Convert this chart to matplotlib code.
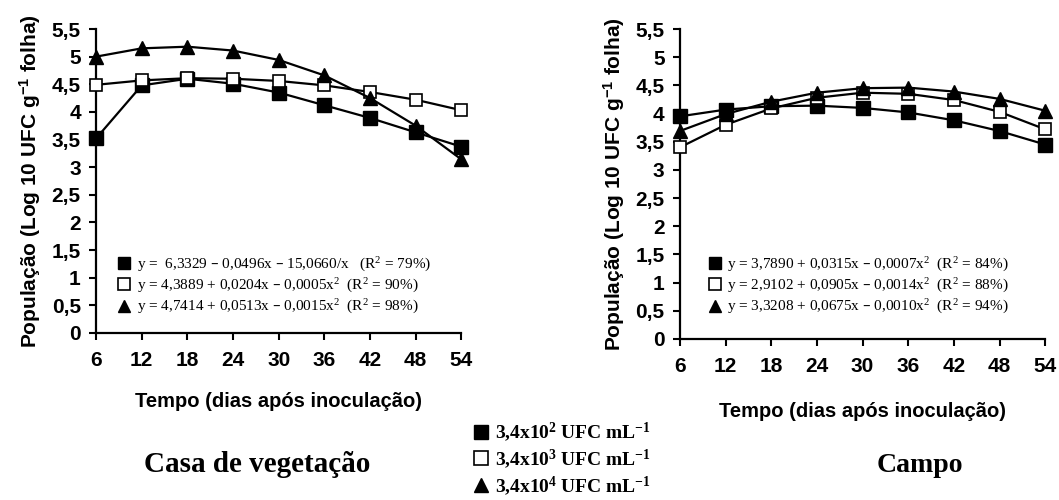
import numpy as np
import matplotlib
matplotlib.use("Agg")
import matplotlib.pyplot as plt
from matplotlib.lines import Line2D

plt.rcParams['mathtext.default'] = 'regular'

# data
dias = [6, 12, 18, 24, 30, 36, 42, 48, 54]

# Casa de vegetacao
casa_1e2 = [3.52, 4.48, 4.60, 4.51, 4.35, 4.12, 3.89, 3.63, 3.37]
casa_1e3 = [4.49, 4.57, 4.61, 4.60, 4.56, 4.48, 4.36, 4.22, 4.03]
casa_1e4 = [5.00, 5.15, 5.18, 5.11, 4.94, 4.66, 4.25, 3.75, 3.14]

# Campo
campo_1e2 = [3.95, 4.07, 4.13, 4.14, 4.10, 4.02, 3.88, 3.69, 3.45]
campo_1e3 = [3.40, 3.80, 4.09, 4.28, 4.37, 4.35, 4.24, 4.03, 3.72]
campo_1e4 = [3.69, 3.99, 4.21, 4.37, 4.45, 4.46, 4.39, 4.26, 4.05]

eq_casa = ["y =  6,3329 \u2013 0,0496x \u2013 15,0660/x   (R$^2$ = 79%)",
           "y = 4,3889 + 0,0204x \u2013 0,0005x$^2$  (R$^2$ = 90%)",
           "y = 4,7414 + 0,0513x \u2013 0,0015x$^2$  (R$^2$ = 98%)"]
eq_campo = ["y = 3,7890 + 0,0315x \u2013 0,0007x$^2$  (R$^2$ = 84%)",
            "y = 2,9102 + 0,0905x \u2013 0,0014x$^2$  (R$^2$ = 88%)",
            "y = 3,3208 + 0,0675x \u2013 0,0010x$^2$  (R$^2$ = 94%)"]
doses = ["3,4x10$^2$ UFC mL$^{-1}$", "3,4x10$^3$ UFC mL$^{-1}$", "3,4x10$^4$ UFC mL$^{-1}$"]

yticks = np.arange(0, 5.51, 0.5)
ytick_labels = [("%g" % v).replace(".", ",") for v in yticks]

SANS = "Liberation Sans"
SERIF = "Liberation Serif"

styles = [dict(marker="s", ms=9.5, mfc="black", mec="black"),
          dict(marker="s", ms=9, mfc="white", mec="black", mew=1.2),
          dict(marker="^", ms=10, mfc="black", mec="black")]


def draw_panel(ax, series, equations, leg_anchor, xlabelpad):
    for vals, st in zip(series, styles):
        ax.plot(dias, vals, color="black", lw=1.6, clip_on=False, zorder=3, **st)
    ax.set_xlim(6, 54)
    ax.set_ylim(0, 5.5)
    ax.set_xticks(dias)
    ax.set_xticklabels([str(d) for d in dias], fontfamily=SANS, fontweight="bold", fontsize=15)
    ax.set_yticks(yticks)
    ax.set_yticklabels(ytick_labels, fontfamily=SANS, fontweight="bold", fontsize=15)
    ax.tick_params(direction="out", length=5, width=1.5, pad=6)
    ax.tick_params(axis="x", pad=8)
    for side in ["top", "right"]:
        ax.spines[side].set_visible(False)
    for side in ["left", "bottom"]:
        ax.spines[side].set_linewidth(1.6)
    ax.set_xlabel("Tempo (dias após inoculação)", fontfamily=SANS, fontweight="bold",
                  fontsize=14.5, labelpad=xlabelpad)
    ax.set_ylabel("População (Log 10 UFC g$^{-1}$ folha)", fontfamily=SANS, fontweight="bold",
                  fontsize=15, labelpad=6)
    handles = [Line2D([], [], ls="none", color="black", **st) for st in styles]
    handles[0].set_markersize(8)
    handles[1].set_markersize(8)
    handles[2].set_markersize(8.5)
    ax.legend(handles, equations, loc="center left", bbox_to_anchor=leg_anchor,
              frameon=False, borderpad=0, handlelength=1.0, handletextpad=0.3,
              labelspacing=0.2, prop={"family": SERIF, "size": 11})


fig = plt.figure(figsize=(10.59, 5.0), dpi=100)
ax1 = fig.add_axes([0.0907, 0.334, 0.345, 0.608])
ax2 = fig.add_axes([0.642, 0.322, 0.345, 0.620])

draw_panel(ax1, [casa_1e2, casa_1e3, casa_1e4], eq_casa, (0.036, 0.155), 16)
draw_panel(ax2, [campo_1e2, campo_1e3, campo_1e4], eq_campo, (0.053, 0.172), 19)

dose_handles = [Line2D([], [], ls="none", color="black", **st) for st in styles]
for h in dose_handles:
    h.set_markersize(9.5)
fig.legend(dose_handles, doses, loc="center left", bbox_to_anchor=(0.438, 0.082),
           frameon=False, borderpad=0, handlelength=0.8, handletextpad=0.3,
           labelspacing=0.15, prop={"family": SERIF, "weight": "bold", "size": 14})

fig.text(0.243, 0.07, "Casa de vegetação", ha="center", va="center",
         fontfamily=SERIF, fontweight="bold", fontsize=21)
fig.text(0.869, 0.068, "Campo", ha="center", va="center",
         fontfamily=SERIF, fontweight="bold", fontsize=20)

fig.savefig("out.png", dpi=100)
